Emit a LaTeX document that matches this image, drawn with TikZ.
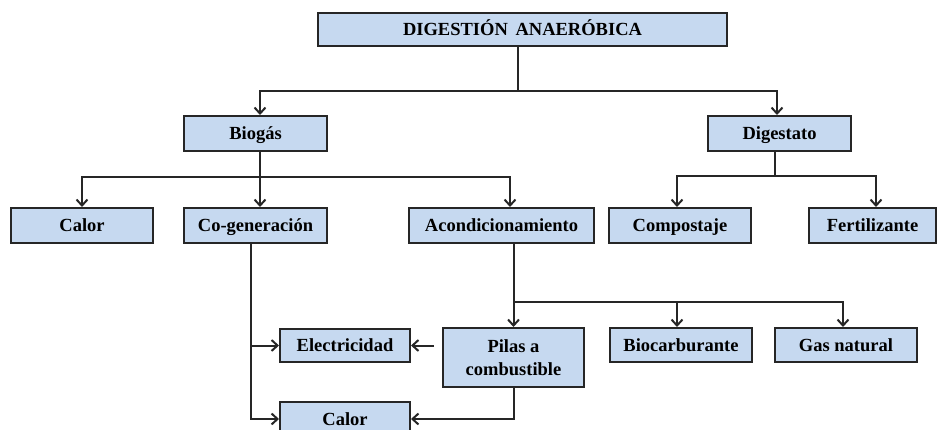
\documentclass[tikz,border=0pt]{standalone}
\usepackage{fontspec}
\setmainfont{Liberation Serif}
\usetikzlibrary{arrows.meta,calc}
\definecolor{boxfill}{HTML}{C6D9F0}
\definecolor{lineclr}{HTML}{262626}
\tikzset{
  box/.style={draw=lineclr, line width=2pt, fill=boxfill, inner sep=0pt,
    font=\fontsize{18.5}{22.5}\selectfont\bfseries, align=center},
  sbox/.style={box, text height=12pt, text depth=0pt},
  conn/.style={draw=lineclr, line width=2pt},
  arr/.style={conn, -{Straight Barb[length=6pt,width=11pt,line width=2pt]}}
}
\begin{document}
\begin{tikzpicture}[x=1pt,y=-1pt]
\useasboundingbox (0,0) rectangle (937,430);
% nodes
\node[sbox, minimum width=409pt, minimum height=33pt] (top) at (522.5,29.5) {DIGESTIÓN\, ANAERÓBICA};
\node[sbox, minimum width=143pt, minimum height=35pt] (biogas) at (255.5,133.5) {Biogás};
\node[sbox, minimum width=143pt, minimum height=35pt] (digest) at (779.5,133.5) {Digestato};
\node[sbox, minimum width=142pt, minimum height=35pt] (calorA) at (82,225.5) {Calor};
\node[sbox, minimum width=143pt, minimum height=35pt] (cogen) at (255.5,225.5) {Co-generación};
\node[sbox, minimum width=185pt, minimum height=35pt] (acond) at (501.5,225.5) {Acondicionamiento};
\node[sbox, minimum width=142pt, minimum height=35pt] (compost) at (680,225.5) {Compostaje};
\node[sbox, minimum width=127pt, minimum height=35pt] (fertil) at (872.5,225.5) {Fertilizante};
\node[sbox, minimum width=130pt, minimum height=33pt] (elec) at (345,345.5) {Electricidad};
\node[sbox, minimum width=130pt, minimum height=35pt] (calorB) at (345,419) {Calor};
\node[box, minimum width=141pt, minimum height=59pt] (pilas) at (513.5,357.5) {Pilas a\\combustible};
\node[sbox, minimum width=142pt, minimum height=34pt] (biocarb) at (681,345) {Biocarburante};
\node[sbox, minimum width=142pt, minimum height=34pt] (gas) at (846,345) {Gas natural};
% junction coordinates
\coordinate (topout) at ($(top.south)+(-4.5,0)$);
\coordinate (j1) at ($(topout)+(0,44)$);
\coordinate (bgout) at ($(biogas.south)+(4.5,0)$);
\coordinate (j2) at ($(bgout)+(0,25)$);
\coordinate (dgout) at ($(digest.south)+(-4.5,0)$);
\coordinate (j3) at ($(dgout)+(0,24)$);
\coordinate (j4) at ($(acond.south)+(12,58)$);
\coordinate (acin) at ($(acond.north)+(8.5,0)$);
\coordinate (cgout) at ($(cogen.south)+(-4.5,0)$);
% connectors
\draw[conn] (topout) -- (j1);
\draw[arr] (j1) -| ($(biogas.north)+(4.5,0)$);
\draw[arr] (j1) -| ($(digest.north)+(-2.5,0)$);
\draw[conn] (bgout) -- (j2);
\draw[arr] (j2) -- (bgout |- cogen.north);
\draw[arr] (j2) -| (calorA.north);
\draw[arr] (j2) -| (acin);
\draw[conn] (dgout) -- (j3);
\draw[arr] (j3) -| ($(compost.north)+(-3,0)$);
\draw[arr] (j3) -| ($(fertil.north)+(3.5,0)$);
\draw[arr] (acond.south -| pilas.north) -- (pilas.north);
\draw[arr] (j4) -| ($(biocarb.north)+(-4,0)$);
\draw[arr] (j4) -| ($(gas.north)+(-3,0)$);
\draw[arr] (cgout) |- (calorB.west);
\draw[arr] (cgout |- elec.west) -- (elec.west);
\draw[arr, shorten <=8pt] (pilas.west |- elec.east) -- (elec.east);
\draw[arr] (pilas.south) |- (calorB.east);
\end{tikzpicture}
\end{document}
